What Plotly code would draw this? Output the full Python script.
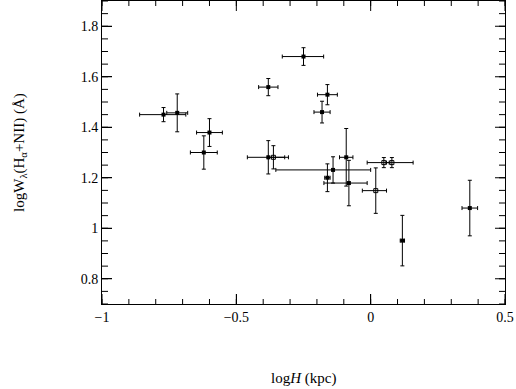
import plotly.graph_objects as go

SERIF = "Liberation Serif, DejaVu Serif, serif"

# filled squares
filled_x = [-0.771, -0.720, -0.600, -0.621, -0.381, -0.250, -0.161, -0.181,
            -0.381, -0.140, -0.161, -0.091, -0.081, 0.118, 0.369]
filled_y = [1.450, 1.457, 1.379, 1.300, 1.559, 1.680, 1.529, 1.460,
            1.281, 1.231, 1.200, 1.281, 1.179, 0.951, 1.080]
filled_xerr_plus = [0.083, 0.039, 0.048, 0.050, 0.036, 0.075, 0.037, 0.030,
                    0.075, 0.140, 0.010, 0.025, 0.068, 0.008, 0.029]
filled_xerr_minus = [0.089, 0.039, 0.048, 0.050, 0.036, 0.079, 0.037, 0.030,
                     0.078, 0.213, 0.010, 0.025, 0.093, 0.008, 0.029]
filled_yerr = [0.028, 0.075, 0.055, 0.066, 0.034, 0.035, 0.040, 0.043,
               0.066, 0.052, 0.055, 0.114, 0.090, 0.100, 0.110]

# open squares
open_x = [-0.362, 0.019, 0.049, 0.079]
open_y = [1.281, 1.149, 1.260, 1.260]
open_xerr_plus = [0.042, 0.040, 0.020, 0.079]
open_xerr_minus = [0.020, 0.050, 0.062, 0.020]
open_yerr = [0.046, 0.090, 0.020, 0.020]

x_ticks = [-1, -0.5, 0, 0.5]
x_tick_text = ["\u22121", "\u22120.5", "0", "0.5"]
y_ticks = [0.8, 1.0, 1.2, 1.4, 1.6, 1.8]
y_tick_text = ["0.8", "1", "1.2", "1.4", "1.6", "1.8"]
x_minor_ticks = [round(-1 + 0.1 * i, 2) for i in range(16)]
y_minor_ticks = [round(0.7 + 0.05 * i, 2) for i in range(25)]

X_RANGE = [-1, 0.5]
Y_RANGE = [0.7, 1.9]

W, H = 516, 389
MARGIN = dict(l=102, r=11, t=1, b=85)
PLOT_W = W - MARGIN["l"] - MARGIN["r"]
PLOT_H = H - MARGIN["t"] - MARGIN["b"]


def _err(plus, minus=None):
    return dict(type="data", symmetric=minus is None, array=plus,
                arrayminus=minus, color="black", thickness=1, width=2)


fig = go.Figure()
fig.add_trace(go.Scatter(
    x=filled_x, y=filled_y, mode="markers",
    marker=dict(symbol="square", size=4, color="black"),
    error_x=_err(filled_xerr_plus, filled_xerr_minus),
    error_y=_err(filled_yerr),
    showlegend=False,
))
fig.add_trace(go.Scatter(
    x=open_x, y=open_y, mode="markers",
    marker=dict(symbol="square-open", size=4, color="black",
                line=dict(width=1, color="black")),
    error_x=_err(open_xerr_plus, open_xerr_minus),
    error_y=_err(open_yerr),
    showlegend=False,
))

tick_font = dict(family=SERIF, size=14, color="black")
axis_common = dict(
    showgrid=False, zeroline=False, showline=True, linecolor="black",
    linewidth=1, mirror=True, ticks="inside", ticklen=10, tickcolor="black",
    tickwidth=1, automargin=False, tickfont=tick_font, tickmode="array",
)
fig.update_xaxes(range=X_RANGE, tickvals=x_ticks, ticktext=x_tick_text,
                 **axis_common)
fig.update_yaxes(range=Y_RANGE, tickvals=y_ticks, ticktext=y_tick_text,
                 **axis_common)

# inward tick marks on all four sides (major 10px, minor 5px)
tick_line = dict(color="black", width=1)


def _x_ticks(values, length):
    frac = length / PLOT_H
    for v in values:
        fig.add_shape(type="line", xref="x", yref="paper", x0=v, x1=v,
                      y0=0, y1=frac, line=tick_line)
        fig.add_shape(type="line", xref="x", yref="paper", x0=v, x1=v,
                      y0=1, y1=1 - frac, line=tick_line)


def _y_ticks(values, length):
    frac = length / PLOT_W
    for v in values:
        fig.add_shape(type="line", xref="paper", yref="y", y0=v, y1=v,
                      x0=0, x1=frac, line=tick_line)
        fig.add_shape(type="line", xref="paper", yref="y", y0=v, y1=v,
                      x0=1, x1=1 - frac, line=tick_line)


_x_ticks(x_minor_ticks, 5)
_x_ticks(x_ticks, 10)
_y_ticks(y_minor_ticks, 6)
_y_ticks(y_ticks, 10)

fig.update_layout(
    width=W, height=H, margin=MARGIN,
    plot_bgcolor="white", paper_bgcolor="white",
    annotations=[
        dict(text="log<i>H</i> (kpc)", x=0.5, y=-0.245, xref="paper", yref="paper",
             xanchor="center", yanchor="middle", showarrow=False,
             font=dict(family=SERIF, size=15, color="black")),
        dict(text="logW<sub>\u03bb</sub>(H<sub>\u03b1</sub>+NII) (\u00c5)",
             x=-0.205, y=0.5, xref="paper", yref="paper", textangle=-90,
             xanchor="center", yanchor="middle", showarrow=False,
             font=dict(family=SERIF, size=15, color="black")),
    ],
)

# page body has a default 8px margin; remove it so the figure sits at 0,0
fig.write_html("out.html", config={"displayModeBar": False},
               post_script="document.body.style.margin='0';")
